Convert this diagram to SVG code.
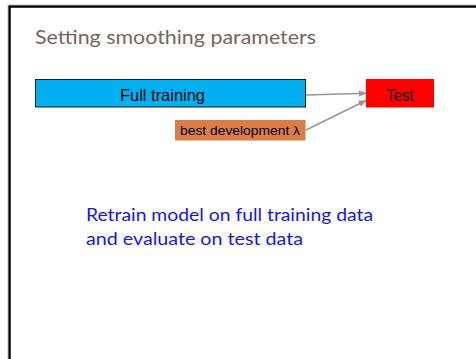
<svg xmlns="http://www.w3.org/2000/svg" width="476" height="359" viewBox="0 0 476 359">
  <style>
    .lbl { font-family: "Liberation Sans", Arial, sans-serif; fill: #000; }
    .title { font-family: "Lato", "Liberation Sans", sans-serif; font-size: 20px; fill: #76655e; }
    .body { font-family: "Lato", "Liberation Sans", sans-serif; font-size: 17px; fill: #1414f5; }
    .conn { stroke: #9c9494; stroke-width: 1.6; fill: none; marker-end: url(#arrow); }
  </style>
  <defs>
    <marker id="arrow" viewBox="0 0 10 10" refX="9" refY="5" markerWidth="5" markerHeight="5" orient="auto" markerUnits="strokeWidth">
      <path d="M0,1 L10,5 L0,9 Z" fill="#9c9494"/>
    </marker>
  </defs>

  <rect width="476" height="359" fill="#fff"/>

  <!-- slide frame -->
  <rect x="9.5" y="6.5" width="480" height="370" fill="none" stroke="#000" stroke-width="2.5"/>
  <rect x="8" y="5" width="483" height="373" fill="none" stroke="#999" stroke-width="0.6"/>

  <text class="title" x="35" y="43.5" textLength="281" lengthAdjust="spacingAndGlyphs">Setting smoothing parameters</text>

  <g id="connectors">
    <line class="conn" x1="306" y1="95" x2="366" y2="93.3"/>
    <line class="conn" x1="306" y1="130" x2="366" y2="100.5"/>
  </g>

  <g id="full-training">
    <rect x="35.5" y="79.5" width="270" height="27.5" fill="#00b0f0" stroke="#1a1a1a" stroke-width="1"/>
    <text class="lbl" x="162.5" y="100.5" font-size="16.5" text-anchor="middle" textLength="85" lengthAdjust="spacingAndGlyphs">Full training</text>
  </g>

  <g id="test">
    <rect x="366" y="79" width="68" height="28.5" fill="#ff0000"/>
    <text class="lbl" x="400" y="100.5" font-size="16.5" text-anchor="middle" textLength="27" lengthAdjust="spacingAndGlyphs">Test</text>
  </g>

  <g id="best-development">
    <rect x="175" y="120" width="130.5" height="20.5" fill="#dc7d47"/>
    <text class="lbl" x="180" y="135" font-size="13" textLength="120" lengthAdjust="spacingAndGlyphs">best development λ</text>
  </g>

  <text class="body" x="86" y="221" textLength="287" lengthAdjust="spacingAndGlyphs">Retrain model on full training data</text>
  <text class="body" x="86" y="245" textLength="217" lengthAdjust="spacingAndGlyphs">and evaluate on test data</text>
</svg>
